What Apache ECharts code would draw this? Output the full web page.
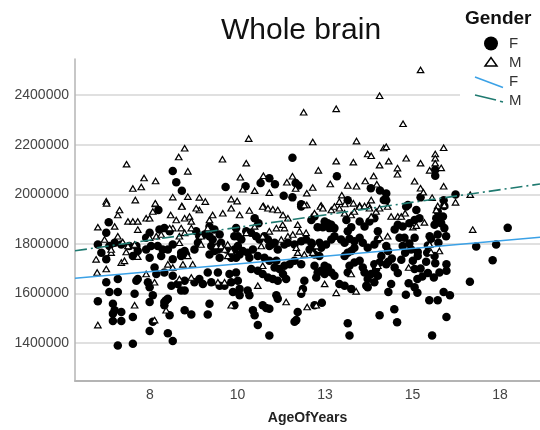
<!DOCTYPE html>
<html>
<head>
<meta charset="utf-8">
<script src="https://cdn.jsdelivr.net/npm/echarts@6/dist/echarts.min.js"></script>
<style>
  html, body { margin: 0; padding: 0; background: #fff; }
  #chart { width: 540px; height: 430px; }
</style>
</head>
<body>
<div id="chart"></div>
<script>
// [age, whole brain volume]
const femalePoints = [
  [8.15,2094000],[8.25,2049000],[8.41,2015000],[9.66,2030000],
  [11.57,2148000],[12.84,2073000],[10.23,2033000],[10.66,2046000],[10.91,2065000],[11.07,2041000],[11.66,2046000],[11.74,2036000],[13.81,2025000],[14.07,2016000],[11.32,1995000],[11.57,1988000],[13.15,1976000],[11.82,1960000],[14.18,1977000],
  [15.65,2099000],[15.65,2075000],[16.23,2000000],[15.23,1988000],[15.89,1976000],[14.25,2004000],[14.25,1976000],[14.87,1957000],[15.91,1953000],
  [17.72,1865000],[16.82,1790000],[17.39,1798000],[17.29,1734000],[16.64,1648000],
  [15.56,1431000],[14.56,1484000],[14.48,1537000],[15.97,1506000],[15.48,1573000],[15.72,1573000],[15.89,1606000],[16.07,1593000],[14.81,1595000],[14.31,1606000],[15.14,1603000],[14.39,1639000],[14.89,1642000],[15.06,1626000],[15.14,1659000],[15.28,1669000],[15.44,1683000],[15.61,1665000],[15.77,1685000],[15.97,1718000],[15.97,1692000],[15.39,1728000],[15.65,1722000],[15.06,1699000],[15.23,1701000],[14.58,1683000],[14.49,1705000],[14.31,1728000],[14.41,1741000],[14.68,1736000],[15.01,1732000],[15.15,1752000],[15.42,1765000],[15.44,1794000],[14.79,1765000],[14.96,1778000],[15.15,1768000],[15.63,1752000],[14.25,1792000],[14.3,1772000],[14.72,1792000],[14.91,1802000],[15.53,1821000],[15.74,1805000],[15.96,1831000],[15.91,1864000],[15.72,1838000],[15.49,1831000],[15.06,1825000],[14.63,1825000],[14.77,1825000],[14.58,1878000],[14.72,1871000],[14.91,1884000],[14.49,1858000],[15.63,1878000],[15.82,1884000],[15.68,1904000],[15.87,1911000],[15.72,1931000],[15.11,1937000],[15.06,1897000],[15.2,1904000],[14.82,1951000],[14.25,1718000],
  [10.49,1904000],[10.6,1884000],[11.82,1951000],[12.2,1911000],[12.11,1897000],[12.49,1891000],[12.58,1884000],[12.68,1878000],[12.63,1864000],[12.77,1864000],[12.29,1868000],[12.44,1868000],[13.11,1897000],[13.25,1868000],[13.15,1851000],[13.49,1891000],[13.63,1871000],[13.77,1891000],[13.91,1904000],[14.01,1851000],
  [9.96,1864000],[10.01,1831000],[10.11,1818000],[10.25,1851000],[10.39,1845000],[10.53,1831000],[10.63,1818000],[10.77,1831000],[10.87,1818000],[10.96,1798000],[10.91,1792000],[11.06,1805000],[11.15,1778000],[11.34,1798000],[11.44,1805000],[11.63,1798000],[11.82,1811000],[11.96,1818000],[12.11,1805000],[12.15,1785000],[12.34,1805000],[12.39,1785000],[12.53,1798000],[12.68,1818000],[12.77,1831000],[12.96,1818000],[13.06,1805000],[13.2,1821000],[13.34,1811000],[13.49,1825000],[13.58,1805000],[13.72,1785000],[13.91,1798000],[14.01,1818000],
  [10.01,1792000],[10.06,1758000],[9.96,1745000],[10.15,1772000],[10.29,1765000],[10.44,1778000],[10.34,1745000],[10.58,1752000],[10.77,1745000],[10.91,1732000],[11.11,1732000],[11.06,1705000],[11.2,1699000],[11.34,1712000],[11.49,1718000],[11.63,1732000],[11.82,1718000],[10.39,1699000],[10.58,1692000],[10.72,1679000],[10.87,1665000],[11.01,1659000],[11.15,1652000],[11.3,1679000],[11.39,1659000],[10.01,1652000],[9.96,1685000],[10.06,1619000],[10.29,1612000],[10.06,1593000],[11.91,1652000],[11.87,1619000],[11.82,1599000],[11.11,1593000],[11.15,1579000],[10.34,1593000],[10.44,1533000],[10.49,1513000],[10.58,1473000],[10.72,1553000],[10.82,1542000],[10.91,1539000],[11.72,1526000],[11.68,1493000],[11.63,1486000],[12.2,1553000],[12.41,1563000],[10.91,1431000],[9.91,1553000],
  [12.2,1758000],[12.34,1752000],[12.49,1712000],[12.58,1705000],[12.68,1685000],[12.77,1672000],[12.91,1639000],[13.06,1632000],[13.15,1685000],[13.25,1619000],[13.2,1712000],[13.34,1725000],[13.49,1732000],[13.58,1705000],[13.68,1632000],[13.63,1685000],[13.72,1659000],[13.82,1679000],[13.96,1699000],[14.01,1672000],[13.91,1718000],[14.06,1725000],[14.11,1752000],[13.15,1480000],[13.2,1431000],[14.06,1513000],[13.06,1752000],[13.15,1765000],[13.25,1772000],[13.34,1785000],[12.06,1778000],[12.2,1712000],[12.29,1685000],[12.39,1692000],[12.25,1665000],[12.49,1679000],[9.91,1831000],[9.91,1778000],[13.91,1646000],[13.72,1626000],
  [7.74,1937000],[6.32,1888000],[6.25,1845000],[6.01,1798000],[6.11,1765000],[6.25,1738000],[6.34,1792000],[6.49,1805000],[6.68,1798000],[6.91,1792000],[7.11,1792000],[7.01,1752000],[7.15,1772000],[7.39,1778000],[7.39,1825000],[7.49,1845000],[7.77,1858000],[7.91,1864000],[8.06,1851000],[7.53,1792000],[7.72,1792000],[7.86,1778000],[8.01,1778000],[8.15,1798000],[8.39,1765000],[8.49,1772000],[8.53,1758000],[8.77,1778000],[8.82,1851000],[8.91,1831000],[9.06,1838000],[8.87,1805000],[9.2,1831000],[9.29,1818000],[9.44,1778000],[9.53,1805000],[9.68,1778000],[9.34,1772000],[9.25,1792000],[9.2,1871000],[9.34,1858000],[9.49,1838000],[9.82,1745000],[9.49,1745000],[9.2,1758000],
  [7.63,1705000],[7.68,1679000],[7.91,1685000],[8.15,1738000],[8.39,1752000],[8.15,1672000],[8.29,1639000],[8.49,1652000],[8.49,1612000],[8.77,1646000],[8.91,1659000],[9.01,1639000],[9.15,1685000],[9.25,1646000],[9.44,1685000],[9.49,1632000],[9.63,1632000],[9.77,1679000],[9.82,1646000],[6.25,1646000],[6.58,1659000],[7.11,1652000],[7.15,1659000],[7.44,1646000],[7.49,1626000],[6.34,1606000],[6.58,1606000],[7.06,1599000],[7.49,1566000],[7.58,1593000],[7.91,1566000],[8.01,1579000],[6.01,1569000],[6.44,1559000],[6.49,1533000],[6.44,1519000],[6.68,1526000],[7.01,1506000],[6.44,1489000],[6.68,1489000],[7.96,1573000],[7.91,1553000],[8.06,1513000],[7.58,1486000],[7.49,1449000],[8.01,1440000],[8.15,1409000],[6.58,1391000],[7.01,1398000],[8.68,1516000],[9.15,1516000],[9.2,1559000],[8.49,1533000],[9.87,1606000],[7.49,1745000],[7.82,1752000],[8.11,1632000],[8.39,1612000]
];

const malePoints = [
  [8.49,2186000],[8.32,2151000],[6.83,2122000],[9.57,2142000],[8.58,2093000],[7.33,2066000],[7.66,2054000],[7.01,2024000],[7.25,2030000],[6.25,1972000],[7.08,1977000],[7.66,1961000],[8.15,1989000],[8.58,1991000],[8.91,1988000],[9.08,1971000],[9.82,1981000],[8.41,1953000],
  [14.06,2398000],[11.89,2331000],[12.82,2345000],[10.32,2225000],[12.15,2211000],[13.4,2215000],[14.18,2187000],[10.25,2126000],[12.82,2134000],[13.31,2130000],[13.72,2163000],[13.82,2156000],[14.06,2118000],[12.31,2097000],[10.08,2069000],[10.74,2075000],[11.57,2073000],[10.15,2021000],[10.49,2015000],[10.91,2007000],[11.41,2049000],[11.66,2024000],[12.15,2028000],[12.65,2042000],[13.15,2036000],[13.4,2033000],[13.65,2054000],[13.89,2074000],[13.98,2041000],[11.98,2005000],[12.98,1997000],[9.99,1973000],[11.98,1957000],[10.74,1953000],[12.39,1955000],[12.91,1971000],[13.07,1961000],[13.31,1964000],[13.49,1955000],[13.82,1977000],[13.74,1957000],
  [15.23,2502000],[14.73,2285000],[14.25,2192000],[15.89,2188000],[14.32,2134000],[14.82,2146000],[15.23,2126000],[14.57,2106000],[14.57,2081000],[15.65,2163000],[15.65,2146000],[15.65,2126000],[15.49,2097000],[15.82,2107000],[15.06,2053000],[15.23,2025000],[15.31,2009000],[15.89,2033000],[16.65,1999000],[15.56,1987000],[15.72,1953000],[16.23,1968000],
  [16.72,1858000],
  [14.89,1705000],[15.53,1768000],[15.77,1772000],[15.49,1798000],[14.29,1831000],[15.01,1868000],[15.11,1874000],[15.34,1887000],[15.68,1937000],[15.91,1957000],[14.39,1911000],[14.58,1911000],[14.68,1911000],[14.79,1924000],[14.29,1951000],
  [10.34,1935000],[10.06,1917000],[10.72,1951000],[10.87,1944000],[11.01,1940000],[11.15,1937000],[11.3,1917000],[11.44,1904000],[10.49,1871000],[11.72,1878000],[11.91,1957000],[12.2,1924000],[12.37,1951000],[12.44,1944000],[12.68,1937000],[12.77,1951000],[12.91,1944000],[13.06,1924000],[13.25,1917000],[13.34,1931000],[13.49,1951000],[13.63,1953000],[13.77,1944000],[13.82,1911000],[13.96,1931000],[14.06,1944000],
  [10.25,1845000],[10.72,1831000],[10.91,1851000],[11.11,1864000],[11.25,1818000],[11.44,1831000],[11.58,1838000],[11.77,1851000],[11.96,1845000],[11.34,1864000],[11.29,1878000],[10.68,1792000],[11.68,1785000],[11.72,1765000],[11.91,1758000],[12.15,1765000],[12.25,1792000],[10.72,1712000],[10.58,1632000],[11.82,1612000],[11.39,1566000],[11.99,1546000],[12.25,1553000],[12.49,1639000],[12.82,1603000],[13.25,1679000],[13.39,1609000],[14.01,1712000],[14.06,1825000],
  [6.26,1964000],[6.58,1917000],[6.63,1937000],[6.87,1891000],[7.01,1891000],[7.15,1891000],[7.39,1904000],[7.49,1904000],[7.58,1931000],[7.65,1964000],[7.15,1858000],[6.49,1871000],[6.01,1868000],[8.09,1917000],[8.25,1897000],[8.49,1904000],[8.63,1911000],[8.68,1891000],[8.91,1937000],[9.2,1897000],[9.29,1917000],[9.58,1924000],[9.82,1944000],[8.41,1951000],[8.82,1944000],
  [6.2,1818000],[6.39,1765000],[6.58,1831000],[6.72,1808000],[6.87,1792000],[7.06,1798000],[6.82,1768000],[7.15,1749000],[6.68,1725000],[6.77,1732000],[5.96,1738000],[6.25,1699000],[5.99,1685000],[6.39,1778000],[7.49,1825000],[7.68,1831000],[7.82,1838000],[8.15,1864000],[8.39,1864000],[8.49,1845000],[8.06,1864000],[8.34,1805000],[8.34,1831000],[8.58,1752000],[8.68,1864000],[8.96,1798000],[9.15,1864000],[8.96,1831000],[9.39,1792000],[9.53,1792000],[9.63,1778000],[9.72,1798000],[9.72,1752000],[9.82,1772000],
  [8.01,1718000],[8.15,1705000],[8.44,1718000],[8.72,1718000],[7.39,1679000],[8.34,1659000],[8.68,1665000],[7.63,1646000],[9.44,1646000],[9.63,1646000],[9.82,1553000],[7.06,1553000],[7.96,1533000],[7.63,1493000],[6.01,1473000]
];

// fitted lines, end points at the axis edges
const femaleFit = [[5.357, 1662000], [18.643, 1827000]];
const maleFit = [[5.357, 1772500], [18.643, 2042000]];

const xTicks = [7.5, 10, 12.5, 15, 17.5];
const yTicks = [1400000, 1600000, 1800000, 2000000, 2200000, 2400000];

const FONT = '"Liberation Sans", Arial, sans-serif';
const blue = '#3ba1e6';
const teal = '#1f7a70';

const chart = echarts.init(document.getElementById('chart'));

const option = {
  animation: false,
  title: {
    text: 'Whole brain',
    left: 221,
    top: 16,
    padding: 0,
    textStyle: { fontFamily: FONT, fontSize: 30, fontWeight: 'normal', color: '#111' },
  },
  grid: { left: 75, right: 0, top: 59, bottom: 45, containLabel: false },
  xAxis: {
    type: 'value',
    min: 5.357,
    max: 18.643,
    name: 'AgeOfYears',
    nameLocation: 'middle',
    nameGap: 30,
    nameTextStyle: { fontFamily: FONT, fontSize: 14, fontWeight: 'bold', color: '#222' },
    axisLine: { lineStyle: { color: '#b4b4b4', width: 2 } },
    axisTick: { show: false, customValues: xTicks },
    splitLine: { show: false },
    axisLabel: {
      customValues: xTicks,
      formatter: (v) => String(Math.round(v)),
      margin: 7,
      fontFamily: FONT,
      fontSize: 14,
      color: '#444',
    },
  },
  yAxis: {
    type: 'value',
    min: 1247500,
    max: 2546000,
    axisLine: { show: true, lineStyle: { color: '#b4b4b4', width: 1.5 } },
    axisTick: { show: false, customValues: yTicks },
    splitLine: { show: true, lineStyle: { color: '#d6d6d6', width: 1.5 } },
    axisLabel: {
      customValues: yTicks,
      formatter: (v) => String(v),
      margin: 6,
      fontFamily: FONT,
      fontSize: 14,
      color: '#444',
    },
  },
  series: [
    {
      name: 'F',
      type: 'scatter',
      data: femalePoints,
      symbol: 'circle',
      symbolSize: 8.5,
      itemStyle: { color: '#000', opacity: 1 },
      silent: true,
    },
    {
      name: 'M',
      type: 'scatter',
      data: malePoints,
      symbol: 'triangle',
      symbolSize: [6.5, 5.5],
      itemStyle: { color: '#fff', borderColor: '#000', borderWidth: 1.2, opacity: 1 },
      silent: true,
    },
    {
      name: 'F fit',
      type: 'line',
      data: femaleFit,
      showSymbol: false,
      lineStyle: { color: blue, width: 1.6 },
      silent: true,
    },
    {
      name: 'M fit',
      type: 'line',
      data: maleFit,
      showSymbol: false,
      lineStyle: { color: teal, width: 1.6, type: [12, 4, 2, 4] },
      silent: true,
    },
  ],
  // legend drawn by hand so the two "F" / "M" labels can repeat
  graphic: [
    { type: 'rect', shape: { x: 460, y: 0, width: 80, height: 112 }, style: { fill: '#fff' }, z: 50 },
    { type: 'text', x: 465, y: 19, z: 51, style: { text: 'Gender', font: 'bold 19px ' + FONT, fill: '#111', verticalAlign: 'middle' } },
    { type: 'circle', shape: { cx: 491, cy: 43.5, r: 7 }, style: { fill: '#000' }, z: 51 },
    { type: 'text', x: 509, y: 44, z: 51, style: { text: 'F', font: '15px ' + FONT, fill: '#333', verticalAlign: 'middle' } },
    { type: 'polygon', shape: { points: [[485, 66], [497, 66], [491, 57.5]] }, style: { fill: '#fff', stroke: '#000', lineWidth: 1.5 }, z: 51 },
    { type: 'text', x: 509, y: 63, z: 51, style: { text: 'M', font: '15px ' + FONT, fill: '#333', verticalAlign: 'middle' } },
    { type: 'line', shape: { x1: 475, y1: 77, x2: 503, y2: 87.5 }, style: { stroke: blue, lineWidth: 1.6 }, z: 51 },
    { type: 'text', x: 509, y: 82, z: 51, style: { text: 'F', font: '15px ' + FONT, fill: '#333', verticalAlign: 'middle' } },
    { type: 'line', shape: { x1: 475, y1: 95, x2: 496, y2: 100 }, style: { stroke: teal, lineWidth: 1.6 }, z: 51 },
    { type: 'line', shape: { x1: 500, y1: 101.2, x2: 503, y2: 102 }, style: { stroke: teal, lineWidth: 1.6 }, z: 51 },
    { type: 'text', x: 509, y: 101, z: 51, style: { text: 'M', font: '15px ' + FONT, fill: '#333', verticalAlign: 'middle' } },
  ],
};

chart.setOption(option);
</script>
</body>
</html>
